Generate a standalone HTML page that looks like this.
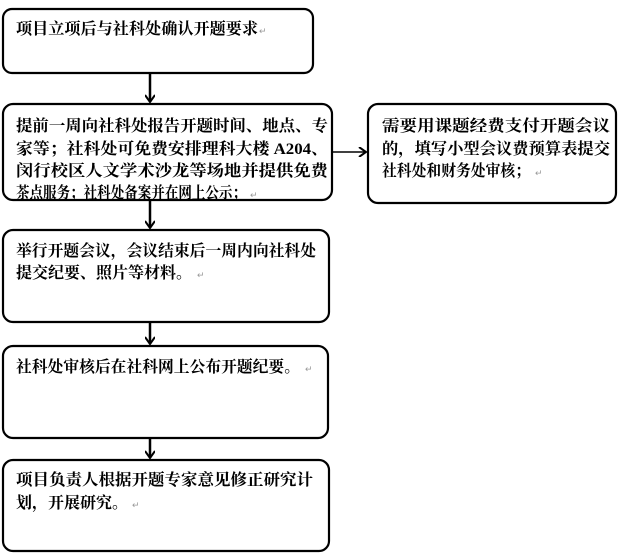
<!DOCTYPE html>
<html><head><meta charset="utf-8"><style>
html,body{margin:0;padding:0;background:#fff;width:619px;height:559px;overflow:hidden}
text{font-family:"Liberation Serif","Noto Serif CJK SC","Noto Sans CJK SC",serif;font-size:16px;font-weight:bold;fill:#000}
.r{fill:#fff;stroke:#000;stroke-width:2.2}
.m{font-size:9px;fill:#999;font-weight:normal}
</style></head><body>
<svg width="619" height="559" viewBox="0 0 619 559" xmlns="http://www.w3.org/2000/svg">
<defs><marker id="a" markerWidth="10" markerHeight="10" refX="8" refY="5" orient="auto" markerUnits="userSpaceOnUse"><path d="M1,0 L8,5 L1,10" fill="none" stroke="#000" stroke-width="2"/></marker></defs>
<rect class="r" x="3" y="9" width="310" height="64" rx="9"/>
<rect class="r" x="3" y="104" width="329" height="96" rx="10"/>
<rect class="r" x="368" y="104" width="248" height="99" rx="10"/>
<rect class="r" x="3" y="230" width="326" height="92" rx="10"/>
<rect class="r" x="3" y="346" width="325" height="92" rx="10"/>
<rect class="r" x="3" y="460" width="326" height="91" rx="10"/>
<g stroke="#000" stroke-width="2.5" fill="none">
<line x1="150" y1="73" x2="150" y2="102" marker-end="url(#a)"/>
<line x1="150" y1="200" x2="150" y2="228" marker-end="url(#a)"/>
<line x1="150" y1="322" x2="150" y2="344" marker-end="url(#a)"/>
<line x1="150" y1="438" x2="150" y2="458" marker-end="url(#a)"/>
<line x1="332" y1="152" x2="366" y2="152" marker-end="url(#a)" stroke-width="1.5"/>
</g>
<text x="16" y="34" textLength="242" lengthAdjust="spacingAndGlyphs">项目立项后与社科处确认开题要求</text><text class="m" x="259" y="34">↵</text>
<text x="16" y="131" textLength="312" lengthAdjust="spacingAndGlyphs">提前一周向社科处报告开题时间、地点、专</text>
<text x="16" y="154" textLength="312" lengthAdjust="spacingAndGlyphs">家等；社科处可免费安排理科大楼 A204、</text>
<text x="16" y="176" textLength="312" lengthAdjust="spacingAndGlyphs">闵行校区人文学术沙龙等场地并提供免费</text>
<text x="16" y="198" textLength="230" lengthAdjust="spacingAndGlyphs">茶点服务；社科处备案并在网上公示；</text><text class="m" x="250" y="198">↵</text>
<text x="382" y="131" textLength="228" lengthAdjust="spacingAndGlyphs">需要用课题经费支付开题会议</text>
<text x="382" y="154" textLength="228" lengthAdjust="spacingAndGlyphs">的，填写小型会议费预算表提交</text>
<text x="382" y="176" textLength="148" lengthAdjust="spacingAndGlyphs">社科处和财务处审核；</text><text class="m" x="535" y="176">↵</text>
<text x="16" y="256" textLength="300" lengthAdjust="spacingAndGlyphs">举行开题会议，会议结束后一周内向社科处</text>
<text x="16" y="278" textLength="176" lengthAdjust="spacingAndGlyphs">提交纪要、照片等材料。</text><text class="m" x="197" y="278">↵</text>
<text x="16" y="372" textLength="284" lengthAdjust="spacingAndGlyphs">社科处审核后在社科网上公布开题纪要。</text><text class="m" x="305" y="372">↵</text>
<text x="16" y="485" textLength="297" lengthAdjust="spacingAndGlyphs">项目负责人根据开题专家意见修正研究计</text>
<text x="16" y="508" textLength="112" lengthAdjust="spacingAndGlyphs">划，开展研究。</text><text class="m" x="132" y="508">↵</text>
</svg>
</body></html>
